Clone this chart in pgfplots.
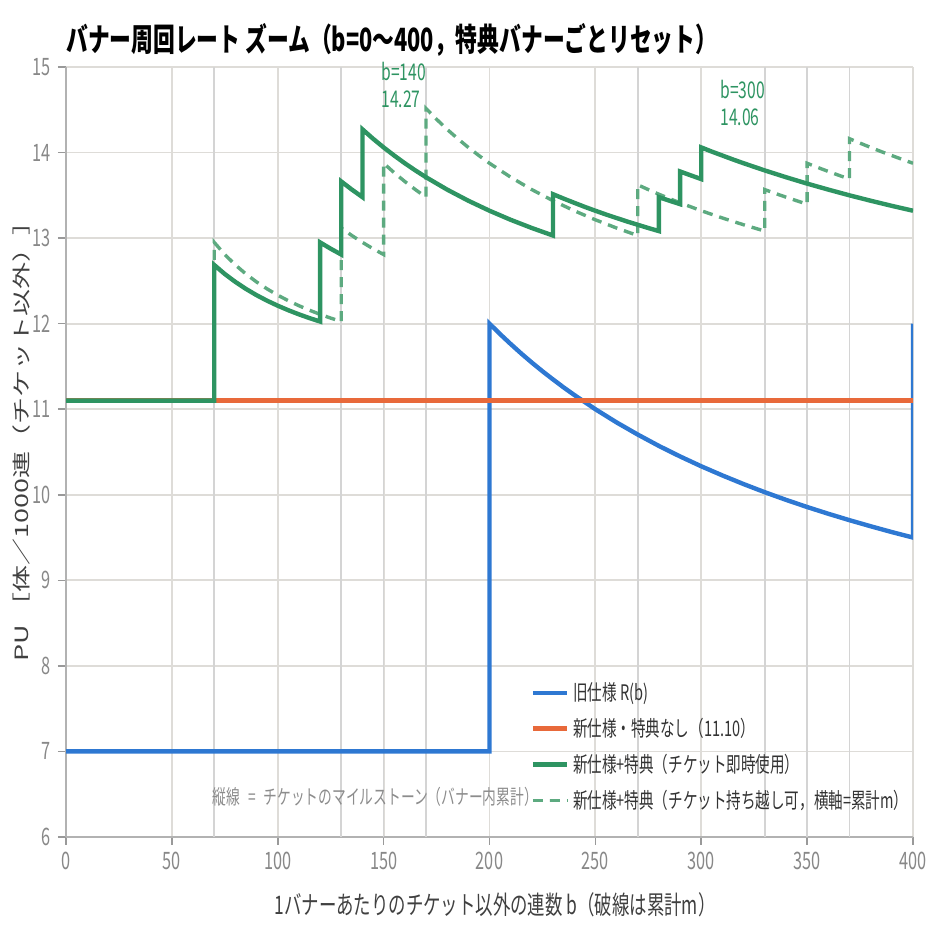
\documentclass[border=0pt]{standalone}
\usepackage{fontspec}
\setmainfont{Noto Sans CJK JP}[FakeStretch=0.68]
\newfontfamily\ylfont{Noto Sans CJK JP}
\usepackage{graphicx}
\usepackage{pgfplots}
\pgfplotsset{compat=1.18}
\definecolor{cblue}{HTML}{2E78D2}
\definecolor{corange}{HTML}{E8693A}
\definecolor{cgreen}{HTML}{2E9462}
\definecolor{cgreenl}{HTML}{5DAA80}
\definecolor{cgrid}{HTML}{DEDCD8}
\definecolor{ctick}{HTML}{888888}
\begin{document}
\begin{tikzpicture}
\path[use as bounding box] (-33pt,-51.5pt) rectangle (437pt,418.5pt);
\begin{axis}[
  at={(0,0)}, anchor=south west,
  scale only axis, width=423.5pt, height=385pt,
  xmin=0, xmax=400, ymin=6, ymax=15,
  clip mode=individual,
  xtick={0,50,...,400}, ytick={6,7,...,15},
  grid=major, major grid style={cgrid, line width=0.9pt},
  extra x ticks={70,130,150,170,270,330,350,370},
  extra x tick labels={},
  extra x tick style={grid=major, major grid style={black!17, line width=0.8pt}, major tick length=0pt},
  axis x line*=bottom, axis y line*=left,
  axis line style={black!30, line width=1.1pt, -},
  tick align=outside, major tick length=4pt,
  tick style={black!40, line width=0.8pt},
  ticklabel style={font=\fontsize{12}{14}\selectfont, text=ctick},
  /pgf/number format/assume math mode=true,
  legend style={draw=none, fill=none, at={(0.548,0.2065)}, anchor=north west, inner sep=0pt,
    font=\fontsize{10.7}{12.5}\selectfont, text=black!80, row sep=3.3pt},
  legend cell align=left,
]
\addplot[cblue, line width=2.2pt] coordinates {
(0,7) (200,7) (200,12) (205,11.878) (210,11.762) (215,11.651) (220,11.545) (225,11.444) (230,11.348) (235,11.255) (240,11.167) (250,11.0) (260,10.846) (270,10.704) (280,10.571) (290,10.448) (300,10.333) (310,10.226) (320,10.125) (330,10.030) (340,9.941) (350,9.857) (360,9.778) (370,9.703) (380,9.632) (390,9.564) (400,9.5) (400,12.0)};
\addlegendentry{旧仕様 R(b)}
\addplot[corange, line width=2.2pt] coordinates {(0,11.1) (400,11.1)};
\addlegendentry{新仕様・特典なし（11.10）}
\addplot[cgreenl, line width=1.7pt, dash pattern=on 5pt off 3.5pt, forget plot] coordinates {
(0,11.1) (70,11.1) (70,12.95) (75,12.808) (80,12.686) (85,12.58) (90,12.4875) (95,12.406) (100,12.333) (105,12.268) (110,12.21) (115,12.157) (120,12.109) (125,12.065) (130,12.025)
(130,13.118) (135,13.030) (140,12.95) (145,12.876) (150,12.808)
(150,13.875) (155,13.764) (160,13.662) (165,13.567) (170,13.479)
(170,14.515) (175,14.389) (180,14.271) (185,14.162) (190,14.06) (195,13.965) (200,13.875) (210,13.712) (220,13.567) (230,13.437) (240,13.32) (250,13.214) (260,13.118) (270,13.030)
(270,13.623) (275,13.567) (280,13.513) (285,13.462) (290,13.4125) (300,13.32) (310,13.235) (320,13.156) (330,13.082)
(330,13.567) (335,13.522) (340,13.479) (345,13.437) (350,13.397)
(350,13.875) (355,13.826) (360,13.779) (365,13.734) (370,13.69)
(370,14.162) (375,14.110) (380,14.06) (385,14.011) (390,13.965) (395,13.919) (400,13.875)};
\addplot[cgreen, line width=2.2pt] coordinates {
(0,11.1) (70,11.1) (70,12.686) (75,12.58) (80,12.488) (85,12.406) (90,12.333) (95,12.268) (100,12.21) (105,12.157) (110,12.109) (115,12.065) (120,12.025)
(120,12.95) (125,12.876) (130,12.808)
(130,13.662) (135,13.567) (140,13.479)
(140,14.271) (145,14.162) (150,14.06) (155,13.965) (160,13.875) (165,13.791) (170,13.712) (180,13.567) (190,13.437) (200,13.32) (210,13.214) (220,13.118) (230,13.030)
(230,13.513) (235,13.462) (240,13.413) (245,13.365) (250,13.32) (255,13.276) (260,13.235) (265,13.194) (270,13.156) (275,13.118) (280,13.082)
(280,13.479) (285,13.437) (290,13.397)
(290,13.779) (295,13.734) (300,13.69)
(300,14.06) (305,14.011) (310,13.965) (315,13.919) (320,13.875) (330,13.791) (340,13.712) (350,13.637) (360,13.567) (370,13.5) (380,13.437) (390,13.377) (400,13.32)};
\addlegendentry{新仕様+特典（チケット即時使用）}
\addlegendimage{cgreenl, line width=1.7pt, dash pattern=on 5pt off 3.5pt}
\addlegendentry{新仕様+特典（チケット持ち越し可，横軸=累計m）}
\node[anchor=south west, inner sep=0pt, align=left, font=\fontsize{11.5}{13.5}\selectfont, text=cgreen] at (axis cs:148.8,14.52) {b=140\\14.27};
\node[anchor=south west, inner sep=0pt, align=left, font=\fontsize{11.5}{13.5}\selectfont, text=cgreen] at (axis cs:308.9,14.31) {b=300\\14.06};
\node[inner sep=0pt, font=\fontsize{10.1}{12}\selectfont, text=black!45] at (axis cs:146,6.47) {縦線\hspace{4pt}=\hspace{4pt}チケットのマイルストーン（バナー内累計）};
\end{axis}
\node[anchor=west, inner sep=0pt, font=\bfseries\fontsize{16}{19}\selectfont] at (0pt,398.5pt) {バナー周回レート ズーム（b=0〜400，特典バナーごとリセット）};
\node[inner sep=0pt, font=\fontsize{12.8}{15}\selectfont, text=black!75] at (214.5pt,-34pt) {1バナーあたりのチケット以外の連数 b（破線は累計m）};
\node[inner sep=0pt, rotate=90, text=black!75] at (-22pt,201pt) {\scalebox{1}[0.68]{\ylfont\fontsize{13.5}{15}\selectfont PU ［体／1000連（チケット以外）］}};
\end{tikzpicture}
\end{document}
